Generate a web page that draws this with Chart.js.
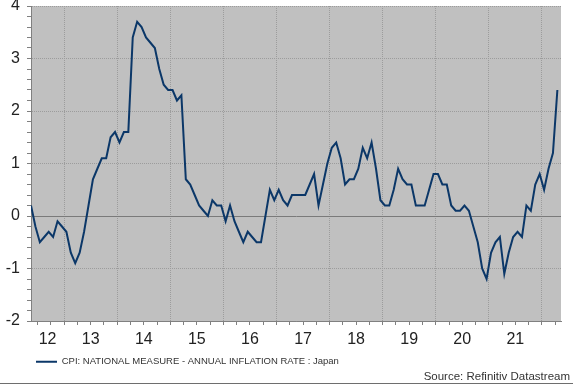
<!DOCTYPE html>
<html>
<head>
<meta charset="utf-8">
<script src="https://cdn.jsdelivr.net/npm/chart.js@4.4.1/dist/chart.umd.min.js"></script>
<style>
  html, body { margin: 0; padding: 0; background: #fff; }
  #wrap { width: 573px; height: 383px; border-bottom: 1px solid #6e6e6e; }
</style>
</head>
<body>
<div id="wrap"><canvas id="cpiChart" width="573" height="383"></canvas></div>
<script>
const seriesLabel = 'CPI: NATIONAL MEASURE - ANNUAL INFLATION RATE : Japan';
const sourceNote = 'Source: Refinitiv Datastream';

// monthly readings, the first one is May 2012
const firstYear = 2012;
const firstMonth = 5;
const cpi = [
  0.2, -0.2, -0.5, -0.4, -0.3, -0.4, -0.1, -0.2,                 // 2012
  -0.3, -0.7, -0.9, -0.7, -0.3, 0.2, 0.7, 0.9, 1.1, 1.1, 1.5, 1.6, // 2013
  1.4, 1.6, 1.6, 3.4, 3.7, 3.6, 3.4, 3.3, 3.2, 2.8, 2.5, 2.4,      // 2014
  2.4, 2.2, 2.3, 0.7, 0.6, 0.4, 0.2, 0.1, 0.0, 0.3, 0.2, 0.2,      // 2015
  -0.1, 0.2, -0.1, -0.3, -0.5, -0.3, -0.4, -0.5, -0.5, 0.0, 0.5, 0.3, // 2016
  0.5, 0.3, 0.2, 0.4, 0.4, 0.4, 0.4, 0.6, 0.8, 0.2, 0.6, 1.0,      // 2017
  1.3, 1.4, 1.1, 0.6, 0.7, 0.7, 0.9, 1.3, 1.1, 1.4, 0.9, 0.3,      // 2018
  0.2, 0.2, 0.5, 0.9, 0.7, 0.6, 0.6, 0.2, 0.2, 0.2, 0.5, 0.8,      // 2019
  0.8, 0.6, 0.6, 0.2, 0.1, 0.1, 0.2, 0.1, -0.2, -0.5, -1.0, -1.2,  // 2020
  -0.7, -0.5, -0.4, -1.1, -0.7, -0.4, -0.3, -0.4, 0.2, 0.1, 0.6, 0.8, // 2021
  0.5, 0.9, 1.2, 2.4                                               // 2022
];

const yearLabels = ['12', '13', '14', '15', '16', '17', '18', '19', '20', '21'];
const xMin = 2012.375;
const xMax = 2022.36;
const yMin = -2;
const yMax = 4;

const fontFamily = "'Liberation Sans', Arial, sans-serif";
const clear = 'rgba(0,0,0,0)';

const points = cpi.map((v, i) => ({ x: firstYear + (firstMonth - 1 + i + 0.5) / 12, y: v }));

// quarter tick marks, dotted grid at year starts, year labels centred in their span
function buildXTicks(scale) {
  const ticks = [];
  for (let q = Math.ceil(scale.min * 4); q <= Math.floor(scale.max * 4); q++) {
    ticks.push({ value: q / 4, text: '', grid: q % 4 === 0, mark: true });
  }
  yearLabels.forEach(lbl => {
    const yr = 2000 + Number(lbl);
    const a = Math.max(yr, scale.min);
    const b = Math.min(yr + 1, scale.max);
    ticks.push({ value: (a + b) / 2, text: lbl, grid: false, mark: false });
  });
  ticks.sort((p, q) => p.value - q.value);
  scale.ticks = ticks;
}

// minor marks every 0.2, labels and grid on whole numbers
function buildYTicks(scale) {
  const ticks = [];
  for (let k = Math.round(scale.min * 5); k <= Math.round(scale.max * 5); k++) {
    const v = k / 5;
    ticks.push({ value: v, text: k % 5 === 0 ? String(v) : '', grid: k % 5 === 0, mark: true });
  }
  scale.ticks = ticks;
}

const plotBackground = {
  id: 'plotBackground',
  beforeDraw(chart) {
    const { ctx, chartArea: a } = chart;
    ctx.save();
    ctx.fillStyle = '#c0c0c0';
    ctx.fillRect(a.left, a.top, a.right - a.left, a.bottom - a.top);
    ctx.restore();
  }
};

const sourceText = {
  id: 'sourceText',
  afterDraw(chart) {
    const ctx = chart.ctx;
    ctx.save();
    ctx.font = '11.5px ' + fontFamily;
    ctx.fillStyle = '#333';
    ctx.textAlign = 'right';
    ctx.textBaseline = 'middle';
    ctx.fillText(sourceNote, chart.width - 3, 377);
    ctx.restore();
  }
};

const ctx = document.getElementById('cpiChart').getContext('2d');

new Chart(ctx, {
  type: 'line',
  data: {
    datasets: [{
      label: seriesLabel,
      data: points,
      borderColor: '#0b3768',
      backgroundColor: '#0b3768',
      borderWidth: 2,
      pointRadius: 0,
      tension: 0,
      fill: false,
    }]
  },
  options: {
    responsive: false,
    animation: false,
    layout: {
      padding: { left: 0, right: 3, top: 0, bottom: 6.5 }
    },
    scales: {
      x: {
        type: 'linear',
        min: xMin,
        max: xMax,
        bounds: 'data',
        afterBuildTicks: buildXTicks,
        afterFit(scale) {
          scale.height = 31;
          scale.paddingLeft = 0;
          scale.paddingRight = 12;
        },
        grid: {
          color: c => (c.tick && c.tick.grid) ? '#9c9c9c' : clear,
          tickColor: c => (c.tick && c.tick.mark) ? '#808080' : clear,
          tickLength: 4,
          lineWidth: 1,
        },
        border: {
          color: '#808080',
          width: 1,
          dash: [1, 1],
        },
        ticks: {
          autoSkip: false,
          maxRotation: 0,
          minRotation: 0,
          padding: 4.5,
          color: '#222',
          font: { family: fontFamily, size: 16 },
          callback: (v, i, ticks) => ticks[i].text,
        }
      },
      y: {
        min: yMin,
        max: yMax,
        afterBuildTicks: buildYTicks,
        afterFit(scale) {
          scale.width = 31;
          scale.paddingTop = 6;
          scale.paddingBottom = 0;
        },
        grid: {
          color: c => {
            if (!c.tick || !c.tick.grid) return clear;
            return c.tick.value === 0 ? '#7a7a7a' : '#9c9c9c';
          },
          tickColor: '#808080',
          tickLength: 4,
          lineWidth: 1,
        },
        border: {
          color: '#808080',
          width: 1,
          dash: c => (c.tick && c.tick.value === 0) ? [] : [1, 1],
        },
        ticks: {
          autoSkip: false,
          padding: 7,
          color: '#222',
          font: { family: fontFamily, size: 16 },
          callback: (v, i, ticks) => ticks[i].text,
        }
      }
    },
    plugins: {
      legend: {
        display: true,
        position: 'bottom',
        align: 'start',
        fullSize: false,
        labels: {
          usePointStyle: true,
          pointStyle: 'line',
          pointStyleWidth: 21,
          padding: 5,
          color: '#333',
          font: { family: fontFamily, size: 9.5 },
        }
      },
      tooltip: { enabled: false },
    }
  },
  plugins: [plotBackground, sourceText]
});
</script>
</body>
</html>
